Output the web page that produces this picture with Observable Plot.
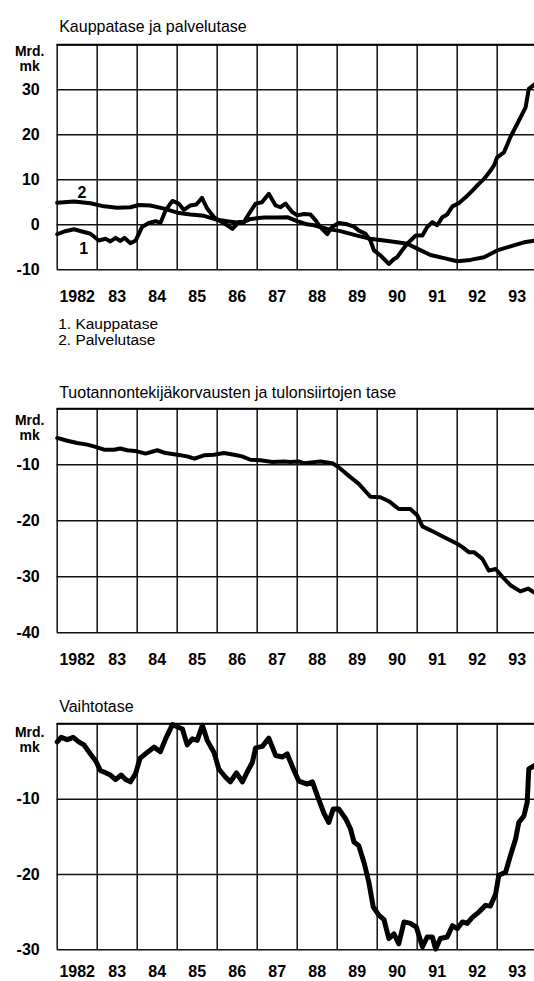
<!DOCTYPE html>
<html><head><meta charset="utf-8">
<script src="https://cdn.jsdelivr.net/npm/d3@7"></script>
<script src="https://cdn.jsdelivr.net/npm/@observablehq/plot@0.6"></script>
<style>
html,body{margin:0;padding:0;background:#fff;overflow:hidden;}
#wrap{position:relative;width:534px;height:981px;overflow:hidden;background:#fff;}
#wrap svg{position:absolute;left:0;overflow:hidden;}
</style></head><body><div id="wrap"></div>
<script>
// ---------- data ----------
const gridYears = [1982,1983,1984,1985,1986,1987,1988,1989,1990,1991,1992,1993];
const yearLabels = ["1982","83","84","85","86","87","88","89","90","91","92","93"];

const titles = ["Kauppatase ja palvelutase",
  "Tuotannontekijäkorvausten ja tulonsiirtojen tase",
  "Vaihtotase"];
const unitLabels = ["Mrd.", "mk"];
const legendLines = ["1. Kauppatase", "2. Palvelutase"];

const ticks1 = [40,30,20,10,0,-10];
const tickLabels1 = ["","30","20","10","0","-10"];
const ticks2 = [0,-10,-20,-30,-40];
const tickLabels2 = ["","-10","-20","-30","-40"];
const ticks3 = [0,-10,-20,-30];
const tickLabels3 = ["","-10","-20","-30"];

// 1. Kauppatase
const kauppaYears = [1982.00,1982.17,1982.42,1982.62,1982.83,1983.04,1983.21,1983.33,1983.46,1983.58,1983.68,1983.83,1983.96,
 1984.12,1984.29,1984.46,1984.58,1984.71,1984.88,1985.04,1985.17,1985.33,1985.48,1985.62,1985.75,1985.92,
 1986.08,1986.25,1986.38,1986.54,1986.67,1986.79,1986.96,1987.12,1987.29,1987.46,1987.58,1987.71,1987.88,
 1988.00,1988.17,1988.33,1988.46,1988.58,1988.75,1988.87,1989.04,1989.25,1989.42,1989.54,1989.71,1989.83,1989.92,
 1990.08,1990.17,1990.29,1990.42,1990.50,1990.62,1990.75,1990.88,1990.96,1991.13,1991.25,1991.38,1991.50,1991.63,
 1991.75,1991.88,1992.04,1992.21,1992.38,1992.54,1992.67,1992.83,1992.92,1993.00,1993.17,1993.33,1993.50,1993.71,1993.79,1993.95];
const kauppaValues = [-2.1,-1.5,-1.0,-1.5,-2.0,-3.5,-3.1,-3.7,-2.9,-3.6,-2.9,-4.1,-3.5,
 -0.5,0.4,0.8,0.4,3.2,5.3,4.7,3.3,4.3,4.5,6.0,3.6,1.7,
 0.8,-0.1,-0.9,0.6,0.6,2.4,4.7,5.0,6.9,4.3,3.9,4.7,2.8,
 2.1,2.4,2.3,1.0,-0.5,-2.1,-0.5,0.4,0.1,-0.4,-1.3,-2.0,-3.5,-5.7,
 -6.8,-7.6,-8.7,-7.6,-7.2,-5.7,-4.2,-3.1,-2.4,-2.4,-0.5,0.6,-0.1,1.7,
 2.3,4.1,4.8,6.1,7.6,9.1,10.2,12.0,13.2,15.0,16.1,19.5,22.4,26.1,30.2,31.3];

// 2. Palvelutase
const palveluYears = [1982.00,1982.42,1982.83,1983.17,1983.50,1983.83,1984.04,1984.33,1984.67,1985.00,1985.33,1985.67,
 1986.00,1986.33,1986.62,1986.83,1987.17,1987.50,1987.75,1988.00,1988.25,1988.42,1988.75,1989.08,1989.50,1989.83,
 1990.17,1990.50,1990.75,1991.00,1991.33,1991.67,1992.00,1992.33,1992.67,1993.00,1993.33,1993.67,1993.95];
const palveluValues = [4.9,5.2,4.8,4.1,3.8,3.9,4.4,4.3,3.6,2.7,2.3,2.0,
 1.1,0.7,0.4,1.3,1.6,1.6,1.7,0.8,0.1,-0.1,-0.9,-1.4,-2.4,-3.1,
 -3.5,-3.9,-4.2,-5.3,-6.7,-7.4,-8.1,-7.8,-7.2,-5.7,-4.8,-3.9,-3.5];

const tagLabels = ["1","2"];
const tagYears = [1982.66, 1982.62];
const tagValues = [-5.3, 7.1];

// Tuotannontekijäkorvausten ja tulonsiirtojen tase
const tuloYears = [1982.00,1982.25,1982.50,1982.75,1982.96,1983.17,1983.42,1983.58,1983.75,1984.00,1984.21,1984.50,1984.71,
 1985.00,1985.25,1985.43,1985.67,1985.92,1986.17,1986.42,1986.62,1986.83,1987.08,1987.38,1987.67,1987.83,
 1988.04,1988.17,1988.58,1988.88,1989.08,1989.33,1989.54,1989.83,1990.08,1990.29,1990.54,1990.83,
 1991.00,1991.13,1991.42,1991.75,1992.00,1992.13,1992.29,1992.42,1992.63,1992.79,1992.96,1993.13,1993.33,1993.58,1993.77,1993.95];
const tuloValues = [-5.2,-5.7,-6.1,-6.4,-6.8,-7.3,-7.3,-7.1,-7.4,-7.6,-8.0,-7.4,-7.9,
 -8.2,-8.5,-8.9,-8.3,-8.2,-7.9,-8.2,-8.5,-9.1,-9.2,-9.5,-9.4,-9.5,
 -9.4,-9.7,-9.4,-9.7,-10.7,-12.2,-13.4,-15.7,-15.8,-16.5,-17.9,-17.9,
 -19.0,-21.0,-22.0,-23.2,-24.1,-24.7,-25.6,-25.6,-26.8,-28.9,-28.6,-30.0,-31.5,-32.6,-32.1,-32.9];

// Vaihtotase
const vaihtoYears = [1982.00,1982.10,1982.25,1982.40,1982.54,1982.67,1982.83,1982.96,1983.08,1983.21,1983.33,1983.46,1983.60,1983.71,1983.83,1983.96,
 1984.07,1984.25,1984.42,1984.58,1984.71,1984.88,1985.00,1985.13,1985.25,1985.38,1985.50,1985.63,1985.75,1985.92,
 1986.04,1986.21,1986.33,1986.48,1986.63,1986.75,1986.88,1986.96,1987.13,1987.29,1987.46,1987.63,1987.75,1987.92,
 1988.04,1988.25,1988.38,1988.50,1988.67,1988.79,1988.90,1989.04,1989.21,1989.33,1989.42,1989.54,1989.67,1989.79,1989.90,
 1990.04,1990.17,1990.29,1990.42,1990.54,1990.67,1990.83,1990.98,1991.13,1991.25,1991.38,1991.46,1991.58,1991.75,1991.88,
 1992.00,1992.13,1992.25,1992.38,1992.54,1992.71,1992.83,1992.96,1993.04,1993.21,1993.33,1993.46,1993.54,1993.67,1993.75,1993.79,1993.95];
const vaihtoValues = [-2.4,-1.8,-2.1,-1.8,-2.4,-2.8,-4.0,-4.9,-6.2,-6.5,-6.8,-7.4,-6.8,-7.4,-7.7,-6.6,
 -4.6,-3.8,-3.1,-3.7,-2.0,-0.1,-0.4,-0.7,-2.8,-2.0,-2.2,-0.2,-2.2,-3.8,
 -6.0,-7.1,-7.7,-6.5,-7.7,-6.4,-5.1,-3.2,-3.0,-1.9,-4.2,-4.4,-4.0,-6.2,
 -7.6,-8.0,-7.7,-9.5,-11.9,-13.1,-11.3,-11.3,-12.6,-13.9,-15.7,-16.2,-18.4,-21.0,-24.3,
 -25.4,-26.0,-28.5,-27.9,-29.2,-26.3,-26.5,-27.0,-29.6,-28.3,-28.3,-29.9,-28.5,-28.3,-26.8,
 -27.2,-26.3,-26.5,-25.7,-25.0,-24.1,-24.2,-22.6,-20.1,-19.7,-17.5,-15.3,-13.1,-12.2,-10.4,-6.0,-5.5];

// ---------- drawing ----------
const FONT = "'Liberation Sans', Arial, Helvetica, sans-serif";
const labelPos = gridYears.map(y => y + 0.5);
const toRows = (xs, ys) => xs.map((x, i) => ({x, y: ys[i]}));
const wrap = document.getElementById("wrap");

function chart(o) {
  const height = o.mt + o.plotH + o.mb;
  const marks = [
    Plot.ruleX(gridYears, {stroke: "#111", strokeWidth: 1.5}),
    Plot.ruleY(o.ticks, {stroke: "#111", strokeWidth: 1.5}),
    Plot.ruleY([o.domain[1]], {stroke: "#000", strokeWidth: 2}),
    Plot.axisX(labelPos, {anchor: "bottom", tickSize: 0, tickPadding: o.xPad, fontSize: 16, fontWeight: "bold",
      tickFormat: d => yearLabels[labelPos.indexOf(d)], label: null}),
    Plot.axisY(o.ticks, {anchor: "left", tickSize: 0, tickPadding: 17.5, fontSize: 16, fontWeight: "bold",
      tickFormat: d => o.tickLabels[o.ticks.indexOf(d)], label: null}),
    Plot.text([unitLabels[0]], {frameAnchor: "top-left", dx: -27.5, dy: o.unitDy[0], textAnchor: "middle", fontSize: 14, fontWeight: "bold"}),
    Plot.text([unitLabels[1]], {frameAnchor: "top-left", dx: -27.5, dy: o.unitDy[1], textAnchor: "middle", fontSize: 14, fontWeight: "bold"}),
    Plot.text([o.title], {frameAnchor: "top-left", dx: 2, dy: o.titleDy, textAnchor: "start", fontSize: 16}),
    ...o.series.map(s => Plot.line(toRows(s.xs, s.ys), {x: "x", y: "y", stroke: "#000", strokeWidth: s.w,
      strokeLinejoin: "round", strokeLinecap: "round"})),
    ...(o.extra || [])
  ];
  const svg = Plot.plot({
    width: 534, height,
    marginLeft: 56.7, marginRight: 0, marginTop: o.mt, marginBottom: o.mb,
    x: {domain: [1982, 1994], range: [56.7, 536.7]},
    y: {domain: o.domain},
    style: {fontFamily: FONT, color: "#000", background: "#fff", overflow: "hidden"},
    marks
  });
  svg.style.top = o.top + "px";
  wrap.appendChild(svg);
}

chart({
  top: 0, mt: 44.3, plotH: 225, mb: 90, domain: [-10, 40], xPad: 21,
  ticks: ticks1, tickLabels: tickLabels1, title: titles[0], titleDy: -24.3, unitDy: [1, 16],
  series: [{xs: kauppaYears, ys: kauppaValues, w: 4}, {xs: palveluYears, ys: palveluValues, w: 4}],
  extra: [
    Plot.text(tagLabels.map((t, i) => ({t, x: tagYears[i], y: tagValues[i]})), {x: "x", y: "y", text: "t", fontSize: 16, fontWeight: "bold"}),
    Plot.text([legendLines[0]], {frameAnchor: "bottom-left", dx: 1, dy: 59.5, textAnchor: "start", fontSize: 15.5}),
    Plot.text([legendLines[1]], {frameAnchor: "bottom-left", dx: 1, dy: 75, textAnchor: "start", fontSize: 15.5})
  ]
});

chart({
  top: 360, mt: 48.3, plotH: 224, mb: 40, domain: [-40, 0], xPad: 20.5,
  ticks: ticks2, tickLabels: tickLabels2, title: titles[1], titleDy: -22, unitDy: [6, 21],
  series: [{xs: tuloYears, ys: tuloValues, w: 4}]
});

chart({
  top: 675, mt: 48.3, plotH: 226, mb: 31.7, domain: [-30, 0], xPad: 15.5,
  ticks: ticks3, tickLabels: tickLabels3, title: titles[2], titleDy: -23, unitDy: [3.5, 18.5],
  series: [{xs: vaihtoYears, ys: vaihtoValues, w: 5}]
});
</script></body></html>
